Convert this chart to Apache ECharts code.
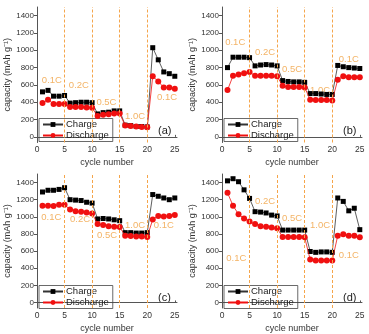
<!DOCTYPE html>
<html>
<head>
<meta charset="utf-8">
<script src="https://cdn.jsdelivr.net/npm/echarts@6/dist/echarts.min.js"></script>
<style>
html,body{margin:0;padding:0;background:#fff;}
#c{width:369px;height:334px;}
</style>
</head>
<body>
<div id="c"></div>
<script>
// ---- data ----
const cycles = [1,2,3,4,5,6,7,8,9,10,11,12,13,14,15,16,17,18,19,20,21,22,23,24,25];
const aCharge    = [520,537,470,470,478,390,395,400,400,395,265,280,285,300,300,135,130,120,120,115,1030,890,750,730,700];
const aDischarge = [390,430,380,380,380,345,345,345,340,335,240,255,260,270,270,130,125,120,115,110,700,640,570,570,555];
const bCharge    = [800,920,920,920,915,820,830,835,830,820,650,640,635,635,630,500,500,495,490,490,825,810,800,795,790];
const bDischarge = [540,705,720,735,750,705,705,705,705,700,590,575,575,575,570,430,425,425,425,420,660,700,690,690,690];
const cCharge    = [1290,1310,1310,1320,1340,1200,1195,1190,1170,1160,975,980,975,965,955,815,815,810,810,815,1260,1240,1220,1200,1220];
const cDischarge = [1130,1130,1125,1140,1140,1085,1065,1060,1050,1040,915,905,890,885,880,780,775,770,770,765,970,1010,1005,1010,1020];
const dCharge    = [1420,1445,1410,1315,1215,1060,1055,1045,1020,1010,845,845,845,845,845,595,585,590,590,585,1220,1180,1070,1100,850];
const dDischarge = [1280,1130,1030,980,945,915,890,885,875,865,765,765,765,765,760,500,490,490,490,490,780,795,780,780,760];
const rateLabels = ['0.1C','0.2C','0.5C','1.0C','0.1C'];
// label anchor points in data coordinates [cycle, capacity]
const aRatePos = [[2.7,650],[7.6,600],[12.6,400],[17.8,235],[23.6,460]];
const bRatePos = [[2.4,1090],[7.8,975],[12.7,780],[17.8,540],[23.0,900]];
const cRatePos = [[2.6,990],[7.8,965],[12.7,782],[17.8,900],[23.0,900]];
const dRatePos = [[2.6,520],[7.8,1180],[12.7,985],[17.8,905],[23.0,545]];
const dividers = [5,10,15,20];
const yTicks = [0,200,400,600,800,1000,1200,1400];
const xTicks = [0,5,10,15,20,25];
const panelNames = ['(a)','(b)','(c)','(d)'];

const panels = [
  {charge:aCharge, discharge:aDischarge, pos:aRatePos, left:37, top:7},
  {charge:bCharge, discharge:bDischarge, pos:bRatePos, left:222, top:7},
  {charge:cCharge, discharge:cDischarge, pos:cRatePos, left:37, top:174},
  {charge:dCharge, discharge:dDischarge, pos:dRatePos, left:222, top:174}
];
const W = 140, H = 135.5;
const font = 'Liberation Sans, Arial, sans-serif';

const grid=[], xAxis=[], yAxis=[], series=[], legend=[], graphic=[];
panels.forEach((p,i)=>{
  grid.push({left:p.left, top:p.top, width:W, height:H, containLabel:false});
  xAxis.push({
    gridIndex:i, type:'value', min:0, max:25.4,
    name:'cycle number', nameLocation:'middle', nameGap:16,
    nameTextStyle:{fontSize:9, color:'#333', fontFamily:font},
    axisLine:{show:true, lineStyle:{color:'#555', width:1}},
    axisTick:{show:true, length:2, inside:true, customValues:xTicks, lineStyle:{color:'#555'}},
    axisLabel:{fontSize:8.5, color:'#333', margin:3, fontFamily:font, customValues:xTicks},
    splitLine:{show:false}
  });
  yAxis.push({
    gridIndex:i, type:'value', min:-65, max:1500,
    name:'capacity (mAh g⁻¹)', nameLocation:'middle', nameGap:21, nameRotate:90,
    nameTextStyle:{fontSize:9, color:'#333', fontFamily:font},
    axisLine:{show:true, lineStyle:{color:'#555', width:1}},
    axisTick:{show:true, length:3, customValues:yTicks, lineStyle:{color:'#555'}},
    axisLabel:{fontSize:8, color:'#333', margin:3, fontFamily:font, customValues:yTicks,
      formatter:(v)=>String(v)},
    splitLine:{show:false}
  });
  series.push({
    name:'Charge', type:'line', xAxisIndex:i, yAxisIndex:i,
    data:cycles.map((c,k)=>[c,p.charge[k]]),
    symbol:'rect', symbolSize:5, z:3,
    itemStyle:{color:'#000'}, lineStyle:{color:'#333', width:0.8},
    markLine:{silent:true, symbol:'none', label:{show:false},
      lineStyle:{color:'#f5a54a', type:[3,2], width:1},
      data:dividers.map(v=>({xAxis:v}))}
  });
  series.push({
    name:'Discharge', type:'line', xAxisIndex:i, yAxisIndex:i,
    data:cycles.map((c,k)=>[c,p.discharge[k]]),
    symbol:'circle', symbolSize:6, z:4,
    itemStyle:{color:'#f01010'}, lineStyle:{color:'#f01010', width:0.8}
  });
  series.push({
    type:'scatter', xAxisIndex:i, yAxisIndex:i, symbolSize:0, silent:true,
    data:p.pos.map((q,k)=>[q[0],q[1],rateLabels[k]]),
    label:{show:true, position:'inside', formatter:(d)=>d.value[2],
      color:'#f0a040', fontSize:9.5, fontFamily:font}
  });
  legend.push({
    data:['Charge','Discharge'], orient:'vertical',
    left:p.left+2, top:p.top+H-24,
    itemWidth:20, itemHeight:6, itemGap:1, padding:[1,4,1,3],
    borderColor:'#444', borderWidth:0.8, selectedMode:false,
    textStyle:{fontSize:9.5, lineHeight:10, color:'#222', fontFamily:font, padding:[0,0,0,-2]}
  });
  graphic.push({type:'text', left:p.left+W-19, top:p.top+H-17,
    style:{text:panelNames[i], fontSize:11, fill:'#222', fontFamily:font}});
});

const chart = echarts.init(document.getElementById('c'), null, {renderer:'canvas'});
chart.setOption({
  animation:false, backgroundColor:'#fff',
  grid, xAxis, yAxis, series, legend, graphic
});
</script>
</body>
</html>
